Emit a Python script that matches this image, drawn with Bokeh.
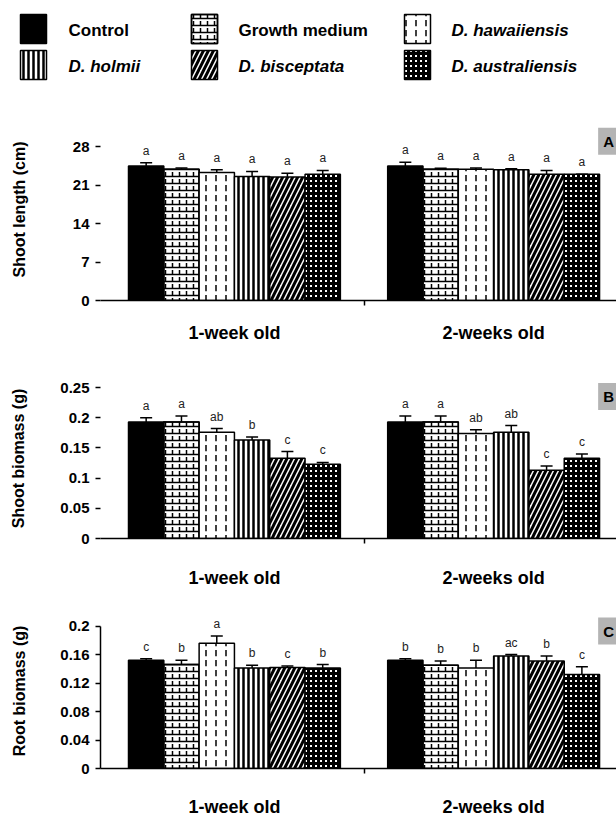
from bokeh.plotting import figure
from bokeh.models import ColumnDataSource, Whisker, TeeHead, FixedTicker, Label, Range1d
from bokeh.embed import file_html
from bokeh.resources import INLINE
from bokeh.core.properties import value

FONT = "Liberation Sans"

# ---------------- data ----------------
treatments = ["Control", "Growth medium", "D. hawaiiensis", "D. holmii", "D. bisceptata", "D. australiensis"]
treat_italic = [False, False, True, True, True, True]

# Panel A: shoot length (cm)
A_ages = ["1-week old", "2-weeks old"]
A_wk1 = [24.5, 23.9, 23.3, 22.6, 22.5, 23.0]
A_wk1_err = [0.6, 0.25, 0.5, 0.9, 0.7, 0.7]
A_wk1_let = ["a", "a", "a", "a", "a", "a"]
A_wk2 = [24.5, 23.9, 23.9, 23.8, 23.0, 23.0]
A_wk2_err = [0.7, 0.2, 0.25, 0.2, 0.7, 0.0]
A_wk2_let = ["a", "a", "a", "a", "a", "a"]
A_ticks = [0, 7, 14, 21, 28]
A_tick_labels = ["0", "7", "14", "21", "28"]

# Panel B: shoot biomass (g)
B_ages = ["1-week old", "2-weeks old"]
B_wk1 = [0.193, 0.193, 0.176, 0.163, 0.133, 0.123]
B_wk1_err = [0.007, 0.010, 0.006, 0.005, 0.011, 0.003]
B_wk1_let = ["a", "a", "ab", "b", "c", "c"]
B_wk2 = [0.193, 0.193, 0.174, 0.176, 0.113, 0.133]
B_wk2_err = [0.010, 0.010, 0.006, 0.011, 0.007, 0.007]
B_wk2_let = ["a", "a", "ab", "ab", "c", "c"]
B_ticks = [0, 0.05, 0.1, 0.15, 0.2, 0.25]
B_tick_labels = ["0", "0.05", "0.1", "0.15", "0.2", "0.25"]

# Panel C: root biomass (g)
C_ages = ["1-week old", "2-weeks old"]
C_wk1 = [0.152, 0.146, 0.176, 0.141, 0.142, 0.141]
C_wk1_err = [0.002, 0.006, 0.010, 0.004, 0.002, 0.005]
C_wk1_let = ["c", "b", "a", "b", "c", "b"]
C_wk2 = [0.152, 0.145, 0.141, 0.158, 0.151, 0.132]
C_wk2_err = [0.002, 0.006, 0.011, 0.002, 0.007, 0.011]
C_wk2_let = ["b", "b", "b", "ac", "b", "c"]
C_ticks = [0, 0.04, 0.08, 0.12, 0.16, 0.2]
C_tick_labels = ["0", "0.04", "0.08", "0.12", "0.16", "0.2"]

# ---------------- styling ----------------
W = 616
LEFT = 100
GAP = 1.34          # gap between the two groups, in bar widths
X_START, X_END = -0.793, 13.82

STYLES = [
    dict(fill_color="black"),
    dict(fill_color="white", hatch_pattern="horizontal_line", hatch_scale=7, hatch_weight=1.5, hatch_color="black"),
    dict(fill_color="white", hatch_pattern="vertical_dash", hatch_scale=10, hatch_weight=1.5, hatch_color="black"),
    dict(fill_color="white", hatch_pattern="vertical_line", hatch_scale=5, hatch_weight=2.5, hatch_color="black"),
    dict(fill_color="white", hatch_pattern="right_diagonal_line", hatch_scale=10, hatch_weight=3, hatch_color="black"),
    dict(fill_color="white", hatch_pattern="cross", hatch_scale=5, hatch_weight=3, hatch_color="black"),
]
BRICK_OVERLAY = dict(fill_color=None, hatch_pattern="vertical_dash", hatch_scale=7, hatch_weight=1.5, hatch_color="black")


def bar_x(g, i):
    return g * (6 + GAP) + i + 0.5


def make_panel(ages, wk1, wk1e, wk1l, wk2, wk2e, wk2l, ticks, tick_labels, ylabel,
               height, b_top, b_bot, y_end, show_yline, ylab_standoff, xlab_standoff,
               panel_letter, letter_y):
    p = figure(width=W, height=height, output_backend="svg", toolbar_location=None,
               x_range=Range1d(X_START, X_END), y_range=Range1d(0, y_end),
               min_border_left=LEFT, min_border_right=0, min_border_top=b_top, min_border_bottom=b_bot)
    p.grid.visible = False
    p.outline_line_color = None
    p.background_fill_color = "white"
    p.border_fill_color = "white"

    vals = [wk1, wk2]
    errs = [wk1e, wk2e]
    lets = [wk1l, wk2l]
    for i in range(len(treatments)):
        xs = [bar_x(g, i) for g in range(2)]
        tops = [vals[g][i] for g in range(2)]
        src = ColumnDataSource(dict(x=xs, top=tops))
        p.vbar(x="x", top="top", width=1.0, source=src, line_color="black", line_width=1.5, **STYLES[i])
        if i == 1:
            p.vbar(x="x", top="top", width=1.0, source=src, line_color="black", line_width=1.5, **BRICK_OVERLAY)
    xs, lo, up, lab = [], [], [], []
    for g in range(2):
        for i in range(len(treatments)):
            xs.append(bar_x(g, i))
            lo.append(vals[g][i])
            up.append(vals[g][i] + errs[g][i])
            lab.append(lets[g][i])
    esrc = ColumnDataSource(dict(x=xs, lower=lo, upper=up, lab=lab))
    p.add_layout(Whisker(source=esrc, base="x", lower="lower", upper="upper", dimension="height",
                         lower_head=None, upper_head=TeeHead(size=12, line_width=1.5, line_color="black"),
                         line_width=1.5, line_color="black"))
    p.text(x="x", y="upper", text="lab", source=esrc, text_align="center", text_baseline="bottom",
           y_offset=-5, text_font=value(FONT), text_font_size="12px", text_color="#222222")

    xa = p.xaxis[0]
    centers = [bar_x(g, 2.5) for g in range(2)]
    xa.ticker = FixedTicker(ticks=centers, minor_ticks=[6 + GAP / 2])
    xa.major_label_overrides = {centers[g]: ages[g] for g in range(2)}
    xa.major_tick_out = 0
    xa.major_tick_in = 0
    xa.minor_tick_out = 5
    xa.minor_tick_in = 0
    xa.minor_tick_line_width = 1.5
    xa.axis_line_width = 1.5
    xa.major_label_standoff = xlab_standoff
    xa.major_label_text_font = FONT
    xa.major_label_text_font_size = "18px"
    xa.major_label_text_font_style = "bold"
    xa.major_label_text_color = "black"

    ya = p.yaxis[0]
    ya.ticker = FixedTicker(ticks=ticks, minor_ticks=[])
    ya.major_label_overrides = {t: l for t, l in zip(ticks, tick_labels)}
    ya.bounds = (ticks[0], ticks[-1])
    ya.major_tick_out = 5
    ya.major_tick_in = 0
    ya.major_tick_line_width = 1.5
    ya.minor_tick_out = 0
    ya.minor_tick_in = 0
    ya.axis_line_width = 1.5
    if not show_yline:
        ya.axis_line_color = None
    ya.major_label_standoff = 6
    ya.major_label_text_font = FONT
    ya.major_label_text_font_size = "15px"
    ya.major_label_text_font_style = "bold"
    ya.major_label_text_color = "black"
    ya.axis_label = ylabel
    ya.axis_label_standoff = ylab_standoff
    ya.axis_label_text_font = FONT
    ya.axis_label_text_font_size = "16px"
    ya.axis_label_text_font_style = "bold"
    ya.axis_label_text_color = "black"

    p.add_layout(Label(x=13.3, y=letter_y, text=panel_letter, text_align="left", text_baseline="middle",
                       text_font=FONT, text_font_size="15px", text_font_style="bold", text_color="black",
                       background_fill_color="#b4b4b4", padding=5))
    return p


pA = make_panel(A_ages, A_wk1, A_wk1_err, A_wk1_let, A_wk2, A_wk2_err, A_wk2_let, A_ticks, A_tick_labels,
                "Shoot length (cm)", height=250, b_top=23, b_bot=44, y_end=33.15, show_yline=False,
                ylab_standoff=42, xlab_standoff=17, panel_letter="A", letter_y=29.0)
pB = make_panel(B_ages, B_wk1, B_wk1_err, B_wk1_let, B_wk2, B_wk2_err, B_wk2_let, B_ticks, B_tick_labels,
                "Shoot biomass (g)", height=245, b_top=33, b_bot=52, y_end=0.265, show_yline=False,
                ylab_standoff=30, xlab_standoff=24, panel_letter="B", letter_y=0.235)
pC = make_panel(C_ages, C_wk1, C_wk1_err, C_wk1_let, C_wk2, C_wk2_err, C_wk2_let, C_ticks, C_tick_labels,
                "Root biomass (g)", height=229, b_top=23, b_bot=51, y_end=0.2177, show_yline=True,
                ylab_standoff=29, xlab_standoff=23, panel_letter="C", letter_y=0.193)

# ---------------- legend ----------------
LH = 95
pl = figure(width=W, height=LH, output_backend="svg", toolbar_location=None,
            x_range=Range1d(0, W), y_range=Range1d(LH, 0),
            min_border=0, min_border_left=0, min_border_right=0, min_border_top=0, min_border_bottom=0)
pl.axis.visible = False
pl.grid.visible = False
pl.outline_line_color = None

SW_X = [20, 191, 404]
TX_X = [68, 238, 451]
SW_Y = [14, 50]
SW_W, SW_H = 26, 29
for k in range(len(treatments)):
    r, c = divmod(k, 3)
    sx, sy = SW_X[c], SW_Y[r]
    src = ColumnDataSource(dict(l=[sx], r=[sx + SW_W], t=[sy], b=[sy + SW_H]))
    pl.quad(left="l", right="r", top="t", bottom="b", source=src, line_color="black", line_width=1.5, **STYLES[k])
    if k == 1:
        pl.quad(left="l", right="r", top="t", bottom="b", source=src, line_color="black", line_width=1.5,
                **BRICK_OVERLAY)
    tsrc = ColumnDataSource(dict(x=[TX_X[c]], y=[sy + SW_H / 2 + 1], t=[treatments[k]]))
    pl.text(x="x", y="y", text="t", source=tsrc, text_align="left", text_baseline="middle",
            text_font=value(FONT), text_font_size="17px",
            text_font_style="bold italic" if treat_italic[k] else "bold", text_color="black")

open("out.html", "w").write(file_html([pl, pA, pB, pC], INLINE))
